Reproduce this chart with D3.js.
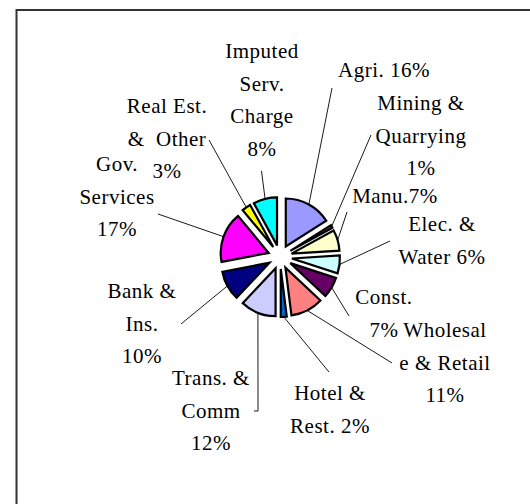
<!DOCTYPE html>
<html lang="en">

<head>
  <meta charset="utf-8">
  <title>GDP share pie</title>
  <script src="https://d3js.org/d3.v7.min.js"></script>
  <style>
    body {
      margin: 0;
      background: #fff;
    }

    #svg text {
      font-family: "Liberation Serif", "Times New Roman", Times, serif;
      font-size: 21px;
      letter-spacing: 0.5px;
      fill: #000;
    }
  </style>
</head>

<body>
  <svg id="svg" width="530" height="504"></svg>
  <script type="text/javascript">

    // data (percent share, clockwise from 12 o'clock)
    var categories = ['Agri.', 'Mining & Quarrying', 'Manu.', 'Elec. & Water', 'Const.',
      'Wholesale & Retail', 'Hotel & Rest.', 'Trans. & Comm', 'Bank & Ins.',
      'Gov. Services', 'Real Est. & Other', 'Imputed Serv. Charge'];
    var values = [16, 1, 7, 6, 7, 11, 2, 12, 10, 17, 3, 8];
    var colors = ['#9999FF', '#993366', '#FFFFCC', '#CCFFFF', '#660066', '#FF8080',
      '#0066CC', '#CCCCFF', '#000080', '#FF00FF', '#FFFF00', '#00FFFF'];
    // label text as wrapped by the chart, {p} = percentage
    var labelText = ['Agri. {p}', 'Mining &|Quarrying|{p}', 'Manu.{p}', 'Elec. &|Water {p}',
      'Const.|{p}', 'Wholesal|e & Retail|{p}', 'Hotel &|Rest. {p}', 'Trans. &|Comm|{p}',
      'Bank &|Ins.|{p}', 'Gov.|Services|{p}', 'Real Est.|&  Other|{p}', 'Imputed|Serv.|Charge|{p}'];

    // layout: label centre x / first baseline y, and leader line start
    var labelPos = [[384, 77], [421, 110], [395, 203], [442, 231], [384, 304], [445, 337],
      [330, 400], [211, 385], [142, 298], [117, 171], [167, 113], [262, 58]];
    var leaderStart = [[332, 88], [371, 135], [347, 212], [390, 241], [349, 316], [392, 363],
      [329, 372], [258, 411], [181, 324], [158, 214], [209, 140], [261.5, 171]];

    var W = 530, H = 504;
    var cx = 280, cy = 257, R = 48, explode = 12;
    var lineH = 32.5;

    var svg = d3.select('#svg');

    // frame (only top and left edges are visible in the crop)
    svg.append('path')
      .attr('d', `M16.5,${H} L16.5,10 L${W},10`)
      .attr('fill', 'none')
      .attr('stroke', '#333')
      .attr('stroke-width', 2);

    var total = d3.sum(values);
    var fmt = (v) => Math.round(v / total * 100) + '%';

    var arcs = d3.pie().sort(null).value((d) => d)(values);
    var arc = d3.arc().outerRadius(R).innerRadius(0);

    function offset(d, dist) {
      var a = (d.startAngle + d.endAngle) / 2;
      return [Math.sin(a) * dist, -Math.cos(a) * dist];
    }

    var g = svg.append('g').attr('transform', `translate(${cx},${cy})`);

    // leader lines, from label to the outer edge of the exploded slice
    svg.append('g').selectAll('path')
      .data(arcs)
      .enter()
      .append('path')
      .attr('d', (d, i) => {
        var e = offset(d, R + explode);
        var s = leaderStart[i];
        var pre = i === 7 ? `M${s[0] - 4},${s[1]} L` : 'M';
        return `${pre}${s[0]},${s[1]} L${cx + e[0]},${cy + e[1]}`;
      })
      .attr('fill', 'none')
      .attr('stroke', '#000')
      .attr('stroke-width', 0.9);

    g.selectAll('path')
      .data(arcs)
      .enter()
      .append('path')
      .attr('transform', (d) => `translate(${offset(d, explode)})`)
      .attr('d', arc)
      .style('fill', (d, i) => colors[i])
      .style('stroke', '#000')
      .style('stroke-width', 2.2)
      .style('stroke-linejoin', 'miter');

    // labels
    var lg = svg.append('g');
    arcs.forEach((d, i) => {
      var lines = labelText[i].replace('{p}', fmt(d.value)).split('|');
      var t = lg.append('text')
        .attr('text-anchor', 'middle')
        .style('white-space', 'pre');
      lines.forEach((ln, j) => {
        t.append('tspan')
          .attr('x', labelPos[i][0])
          .attr('y', labelPos[i][1] + j * lineH)
          .text(ln);
      });
    });
  </script>
</body>

</html>
